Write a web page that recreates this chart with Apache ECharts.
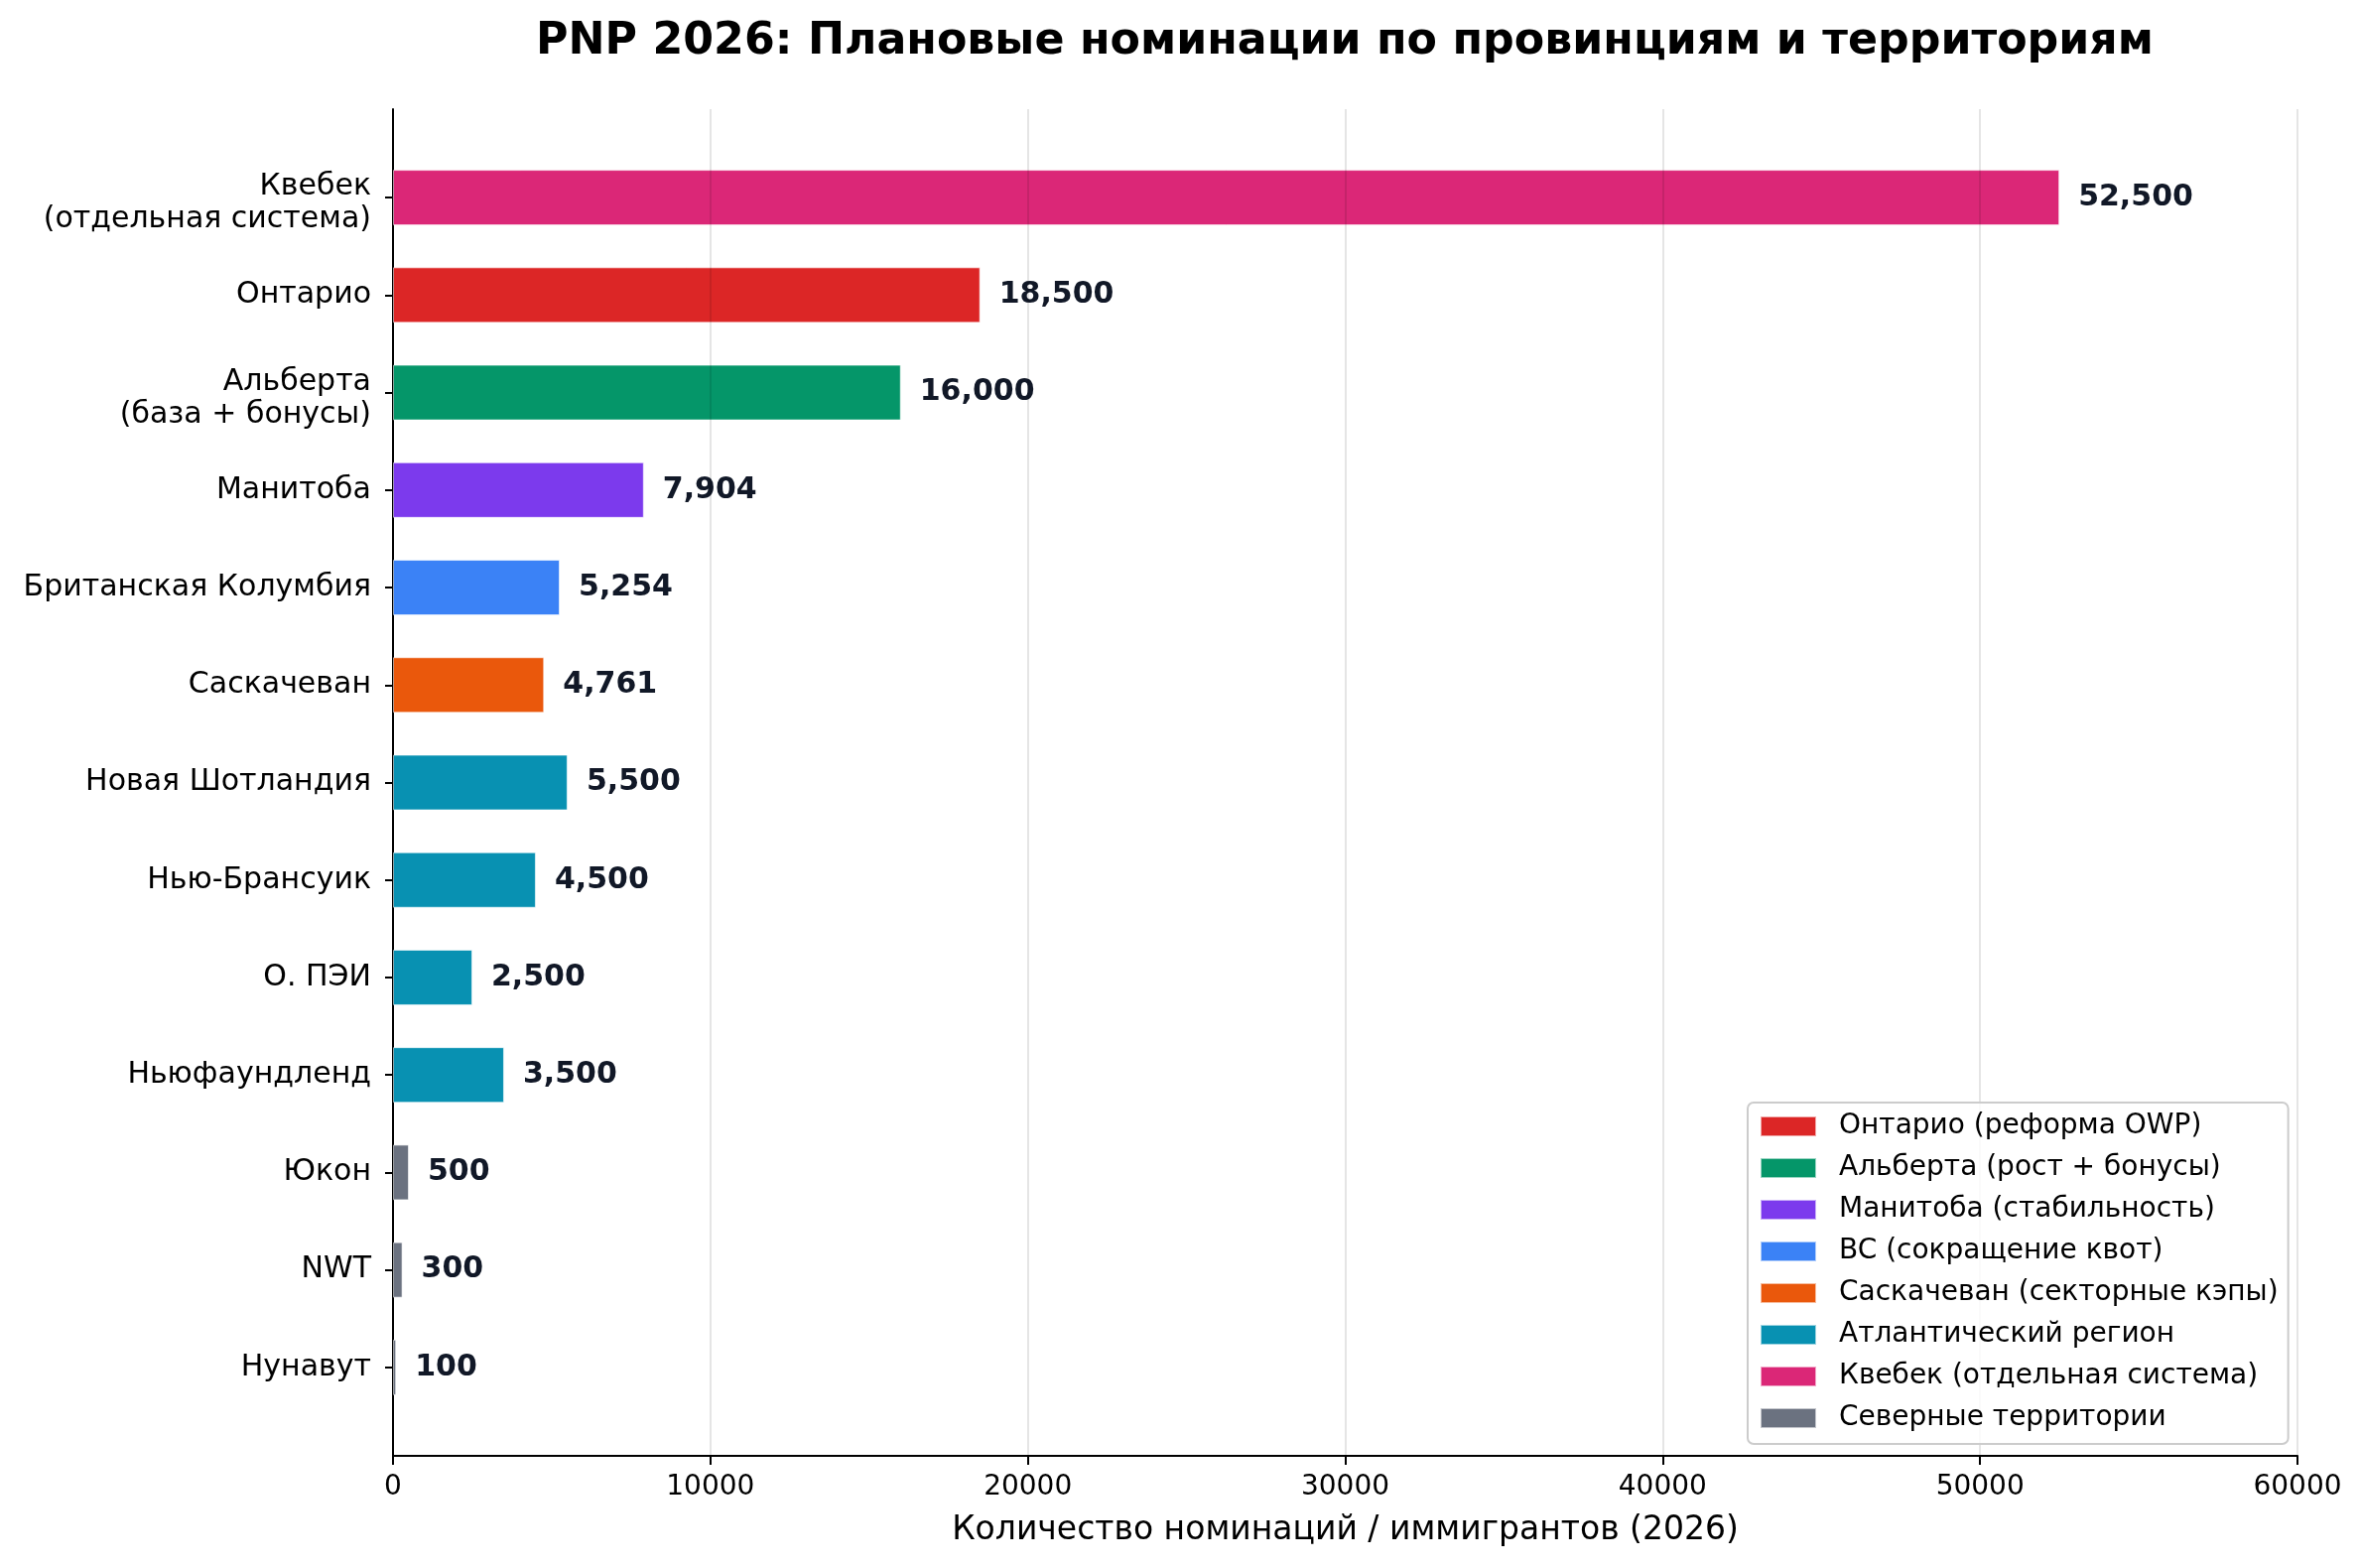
<!DOCTYPE html>
<html>
  <head>
    <meta charset="UTF-8" />
    <title>PNP 2026</title>
    <style>
      html, body { margin: 0; padding: 0; background: #ffffff; }
      #chart { width: 2379px; height: 1580px; }
    </style>
    <script src="https://cdn.jsdelivr.net/npm/echarts@6/dist/echarts.min.js"></script>
  </head>
  <body>
    <div id="chart"></div>
    <script>
      // данные с картинки
      const categories = [
        "Квебек\n(отдельная система)",
        "Онтарио",
        "Альберта\n(база + бонусы)",
        "Манитоба",
        "Британская Колумбия",
        "Саскачеван",
        "Новая Шотландия",
        "Нью-Брансуик",
        "О. ПЭИ",
        "Ньюфаундленд",
        "Юкон",
        "NWT",
        "Нунавут"
      ];
      const values = [52500, 18500, 16000, 7904, 5254, 4761, 5500, 4500, 2500, 3500, 500, 300, 100];
      // индекс группы (легенды) для каждой категории
      const groupOf = [6, 0, 1, 2, 3, 4, 5, 5, 5, 5, 7, 7, 7];
      const groupNames = [
        "Онтарио (реформа OWP)",
        "Альберта (рост + бонусы)",
        "Манитоба (стабильность)",
        "BC (сокращение квот)",
        "Саскачеван (секторные кэпы)",
        "Атлантический регион",
        "Квебек (отдельная система)",
        "Северные территории"
      ];
      const groupColors = ["#dc2626", "#059669", "#7c3aed", "#3b82f6", "#ea580c", "#0891b2", "#db2777", "#6b7280"];
      const xTicks = [0, 10000, 20000, 30000, 40000, 50000, 60000];

      const FONT = "DejaVu Sans";
      const chart = echarts.init(document.getElementById("chart"));

      const series = groupNames.map((name, g) => ({
        name: name,
        type: "bar",
        stack: "all",
        xAxisIndex: 0,
        yAxisIndex: 0,
        barWidth: 56,
        itemStyle: { color: groupColors[g], borderColor: "rgba(255,255,255,0.6)", borderWidth: 1 },
        label: {
          show: true,
          position: "right",
          distance: 19,
          fontFamily: FONT,
          fontSize: 30,
          fontWeight: "bold",
          color: "#111827",
          formatter: (p) => Number(p.value).toLocaleString("en-US")
        },
        data: values.map((v, i) => (groupOf[i] === g ? v : "-"))
      }));

      // двухстрочные подписи в matplotlib сидят чуть ниже метки
      function yLabel(v) {
        if (v.indexOf("\n") < 0) return v;
        return "{s| }\n" + v.split("\n").map((l) => "{a|" + l + "}").join("\n");
      }

      const option = {
        animation: false,
        backgroundColor: "#ffffff",
        title: {
          text: "PNP 2026: Плановые номинации по провинциям и территориям",
          left: 1355,
          textAlign: "center",
          top: 20,
          padding: 0,
          textStyle: { fontFamily: FONT, fontSize: 44.3, fontWeight: "bold", color: "#000" }
        },
        legend: {
          orient: "vertical",
          left: 1761,
          top: 1111,
          data: groupNames,
          icon: "rect",
          itemWidth: 56,
          itemHeight: 20,
          itemGap: 14,
          padding: [10, 10, 12, 12],
          backgroundColor: "rgba(255,255,255,0.8)",
          borderColor: "#cccccc",
          borderWidth: 2,
          borderRadius: 6,
          selectedMode: false,
          textStyle: { fontFamily: FONT, fontSize: 28, color: "#000", padding: [0, 0, 0, 18] }
        },
        grid: [
          { left: 396, right: 64, top: 150, bottom: 153, containLabel: false },
          { left: 396, right: 64, top: 110, bottom: 113, containLabel: false }
        ],
        xAxis: [
          { type: "value", gridIndex: 0, min: 0, max: 60000, show: false },
          {
            type: "value",
            gridIndex: 1,
            min: xTicks[0],
            max: xTicks[xTicks.length - 1],
            interval: 10000,
            z: 3,
            name: "Количество номинаций / иммигрантов (2026)",
            nameLocation: "middle",
            nameGap: 59,
            nameTextStyle: { fontFamily: FONT, fontSize: 33, color: "#000" },
            axisLine: { show: true, lineStyle: { color: "#000", width: 2 } },
            axisTick: { show: true, length: 9, lineStyle: { color: "#000", width: 2 } },
            axisLabel: { margin: 18, fontFamily: FONT, fontSize: 28, color: "#000", formatter: (v) => String(v) },
            splitLine: { show: true, lineStyle: { color: "rgba(0,0,0,0.1)", width: 2 } }
          }
        ],
        yAxis: [
          {
            type: "category",
            gridIndex: 0,
            data: categories,
            inverse: true,
            axisLine: { show: true, lineStyle: { color: "#000", width: 2 } },
            axisTick: { show: true, alignWithLabel: true, length: 8, lineStyle: { color: "#000", width: 2 } },
            axisLabel: {
              margin: 22, fontFamily: FONT, fontSize: 30, lineHeight: 33, color: "#000", align: "right",
              formatter: yLabel,
              rich: {
                s: { fontSize: 2, lineHeight: 12 },
                a: { fontFamily: FONT, fontSize: 30, lineHeight: 33, color: "#000" }
              }
            },
            splitLine: { show: false }
          },
          {
            type: "value",
            gridIndex: 1,
            min: 0,
            max: 1,
            axisLine: { show: true, lineStyle: { color: "#000", width: 2 } },
            axisTick: { show: false },
            axisLabel: { show: false },
            splitLine: { show: false }
          }
        ],
        series: series
      };

      chart.setOption(option);
    </script>
  </body>
</html>
